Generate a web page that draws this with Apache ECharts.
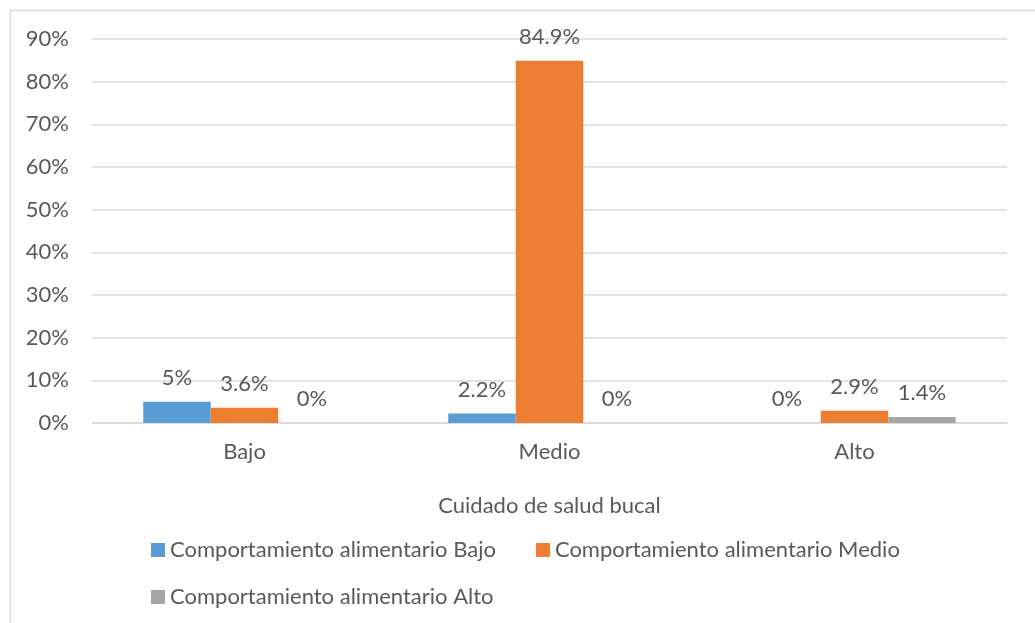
<!DOCTYPE html>
<html>
<head>
<meta charset="utf-8">
<script src="https://cdn.jsdelivr.net/npm/echarts@6/dist/echarts.min.js"></script>
<style>
  html, body { margin: 0; padding: 0; background: #fff; }
  #chart { width: 1035px; height: 623px; }
</style>
</head>
<body>
<div id="chart"></div>
<script>
// Cuidado de salud bucal vs. comportamiento alimentario (%)
const categories = ['Bajo', 'Medio', 'Alto'];
const seriesNames = [
  'Comportamiento alimentario Bajo',
  'Comportamiento alimentario Medio',
  'Comportamiento alimentario Alto'
];
const valuesBajo = [5, 2.2, 0];
const valuesMedio = [3.6, 84.9, 2.9];
const valuesAlto = [0, 0, 1.4];
const colors = ['#5B9BD5', '#ED7D31', '#A5A5A5'];

const FONT = 'Lato, "Open Sans", sans-serif';
const TEXT = '#595959';
const FS = 22;

const chart = echarts.init(document.getElementById('chart'));

function barSeries(name, data, color) {
  return {
    name: name,
    type: 'bar',
    data: data,
    barGap: '0%',
    barCategoryGap: '33.6%',
    itemStyle: { color: color },
    label: {
      show: true,
      position: 'top',
      distance: 13,
      formatter: '{c}%',
      color: TEXT,
      fontSize: FS,
      fontFamily: FONT
    }
  };
}

const legendBase = {
  left: 151,
  padding: 0,
  itemWidth: 14,
  itemHeight: 14,
  itemGap: 40,
  icon: 'rect',
  textStyle: { color: TEXT, fontSize: FS, fontFamily: FONT }
};

chart.setOption({
  animation: false,
  graphic: [{
    type: 'rect',
    shape: { x: 10.5, y: 10.5, width: 1100, height: 700 },
    style: { fill: 'none', stroke: '#D9D9D9', lineWidth: 1.5 },
    silent: true
  }],
  grid: { left: 92, right: 28, top: 39, bottom: 200 },
  legend: [
    Object.assign({}, legendBase, { data: seriesNames.slice(0, 2), top: 539 }),
    Object.assign({}, legendBase, { data: seriesNames.slice(2), top: 586 })
  ],
  xAxis: {
    type: 'category',
    data: categories,
    name: 'Cuidado de salud bucal',
    nameLocation: 'middle',
    nameGap: 72,
    nameTextStyle: { color: TEXT, fontSize: FS, fontFamily: FONT },
    axisLine: { lineStyle: { color: '#D9D9D9', width: 1.5 } },
    axisTick: { show: false },
    axisLabel: { color: TEXT, fontSize: FS, fontFamily: FONT, margin: 18 }
  },
  yAxis: {
    type: 'value',
    min: 0,
    max: 90,
    interval: 10,
    axisLine: { show: false },
    axisTick: { show: false },
    axisLabel: { color: TEXT, fontSize: FS, fontFamily: FONT, formatter: '{value}%', margin: 23 },
    splitLine: { lineStyle: { color: '#D9D9D9', width: 1.5 } }
  },
  series: [
    barSeries(seriesNames[0], valuesBajo, colors[0]),
    barSeries(seriesNames[1], valuesMedio, colors[1]),
    barSeries(seriesNames[2], valuesAlto, colors[2])
  ]
});
</script>
</body>
</html>
